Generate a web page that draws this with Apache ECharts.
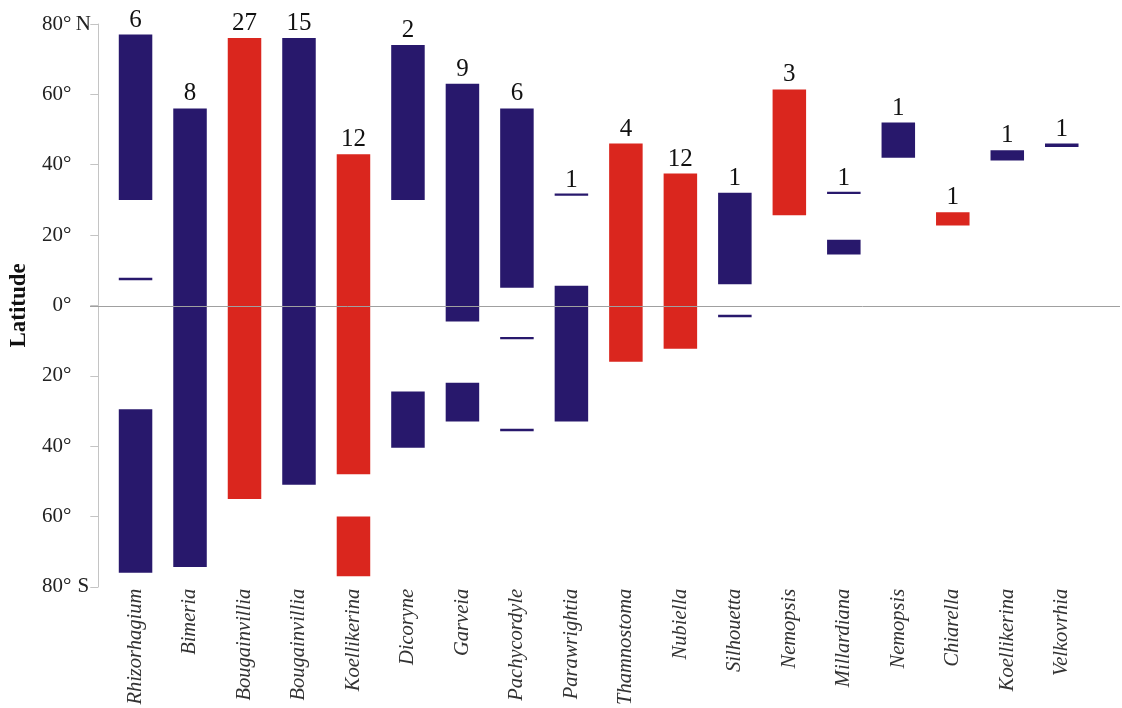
<!DOCTYPE html>
<html>
<head>
<meta charset="utf-8">
<script src="https://cdn.jsdelivr.net/npm/echarts@6/dist/echarts.min.js"></script>
<style>
  html, body { margin: 0; padding: 0; background: #fff; }
  #chart { width: 1122px; height: 708px; }
</style>
</head>
<body>
<div id="chart"></div>
<script>
// genera along the x axis
const genera = ['Rhizorhagium', 'Bimeria', 'Bougainvillia', 'Bougainvillia', 'Koellikerina',
  'Dicoryne', 'Garveia', 'Pachycordyle', 'Parawrightia', 'Thamnostoma', 'Nubiella',
  'Silhouetta', 'Nemopsis', 'Millardiana', 'Nemopsis', 'Chiarella', 'Koellikerina', 'Velkovrhia'];

// number of records per genus (printed above each column)
const counts = [6, 8, 27, 15, 12, 2, 9, 6, 1, 4, 12, 1, 3, 1, 1, 1, 1, 1];

// genera drawn in red (index into genera)
const redGenera = [2, 4, 9, 10, 12, 15];

// latitude ranges [genus index, south end, north end]; + = N, - = S
const ranges = [
  [0, 30, 77], [0, -76, -29.5],
  [1, -74.4, 56],
  [2, -55, 76],
  [3, -51, 76],
  [4, -48, 43], [4, -77, -60],
  [5, 30, 74], [5, -40.5, -24.5],
  [6, -4.6, 63], [6, -33, -22],
  [7, 5, 56],
  [8, -33, 5.6],
  [9, -16, 46],
  [10, -12.3, 37.5],
  [11, 6, 32],
  [12, 25.6, 61.4],
  [13, 14.5, 18.7],
  [14, 42, 52],
  [15, 22.7, 26.5],
  [16, 41.2, 44.1],
  [17, 45, 46]
];

// single-locality records, drawn as thin lines [genus index, latitude]
const singleRecords = [[0, 7.5], [7, -9.3], [7, -35.4], [8, 31.5], [11, -3], [13, 32]];

const yTicks = {80: '80° N', '-80': '80° S'};

const NAVY = '#28186c';
const RED = '#da261e';

const tops = genera.map((g, i) => {
  let m = -90;
  ranges.forEach(r => { if (r[0] === i) m = Math.max(m, r[2]); });
  singleRecords.forEach(r => { if (r[0] === i) m = Math.max(m, r[1]); });
  return [i, m, counts[i]];
});

const chart = echarts.init(document.getElementById('chart'));

const colorOf = i => redGenera.indexOf(i) >= 0 ? RED : NAVY;

const option = {
  animation: false,
  grid: [
    {left: 108, width: 981, top: 24, height: 565},
    {left: 90, right: 2, top: 24, height: 565}
  ],
  xAxis: [
    {
      type: 'category',
      gridIndex: 0,
      data: genera,
      axisLine: {show: false},
      axisTick: {show: false},
      axisLabel: {
        rotate: 90,
        margin: 2,
        interval: 0,
        fontFamily: 'Liberation Serif',
        fontStyle: 'italic',
        fontSize: 20.5,
        color: '#333'
      }
    },
    {type: 'value', gridIndex: 1, min: 0, max: 1, show: false}
  ],
  yAxis: [
    {
      type: 'value',
      gridIndex: 0,
      min: -80,
      max: 80,
      interval: 20,
      offset: 10,
      name: 'Latitude',
      nameLocation: 'middle',
      nameGap: 66,
      nameTextStyle: {fontFamily: 'Liberation Serif', fontWeight: 'bold', fontSize: 23, color: '#111'},
      axisLine: {show: true, lineStyle: {color: '#c4c4c4'}},
      axisTick: {show: true, length: 8, lineStyle: {color: '#c4c4c4'}},
      splitLine: {show: false},
      axisLabel: {
        margin: 8,
        formatter: v => {
          if (yTicks[v]) return '{a|80°}{b| ' + yTicks[v].slice(-1) + '}';
          return '{a|' + Math.abs(v) + '°}{b| }';
        },
        rich: {
          a: {fontFamily: 'Liberation Serif', fontSize: 21, color: '#222'},
          b: {fontFamily: 'Liberation Serif', fontSize: 21, color: '#222', width: 19, align: 'left'}
        }
      }
    },
    {type: 'value', gridIndex: 1, min: -80, max: 80, show: false}
  ],
  series: [
    {
      // equator line across the whole plot
      type: 'line',
      xAxisIndex: 1,
      yAxisIndex: 1,
      data: [],
      markLine: {
        silent: true,
        symbol: 'none',
        label: {show: false},
        lineStyle: {color: '#a0a0a0', width: 1, type: 'solid'},
        data: [{yAxis: 0}]
      }
    },
    {
      type: 'custom',
      xAxisIndex: 0,
      yAxisIndex: 0,
      data: ranges,
      renderItem: (params, api) => {
        const c = api.value(0);
        const hi = api.coord([c, api.value(2)]);
        const lo = api.coord([c, api.value(1)]);
        const w = api.size([1, 0])[0] * 0.615;
        return {
          type: 'rect',
          shape: {x: hi[0] - w / 2, y: hi[1], width: w, height: lo[1] - hi[1]},
          style: {fill: colorOf(c)}
        };
      }
    },
    {
      type: 'custom',
      xAxisIndex: 0,
      yAxisIndex: 0,
      data: singleRecords,
      renderItem: (params, api) => {
        const c = api.value(0);
        const p = api.coord([c, api.value(1)]);
        const w = api.size([1, 0])[0] * 0.615;
        return {
          type: 'rect',
          shape: {x: p[0] - w / 2, y: p[1] - 1.2, width: w, height: 2.4},
          style: {fill: colorOf(c)}
        };
      }
    },
    {
      type: 'custom',
      xAxisIndex: 0,
      yAxisIndex: 0,
      data: tops,
      renderItem: (params, api) => {
        const p = api.coord([api.value(0), api.value(1)]);
        return {
          type: 'text',
          x: p[0],
          y: p[1] - 2,
          style: {
            text: String(api.value(2)),
            fontFamily: 'Liberation Serif',
            fontSize: 25,
            fill: '#111',
            align: 'center',
            verticalAlign: 'bottom'
          }
        };
      }
    }
  ]
};

chart.setOption(option);
</script>
</body>
</html>
